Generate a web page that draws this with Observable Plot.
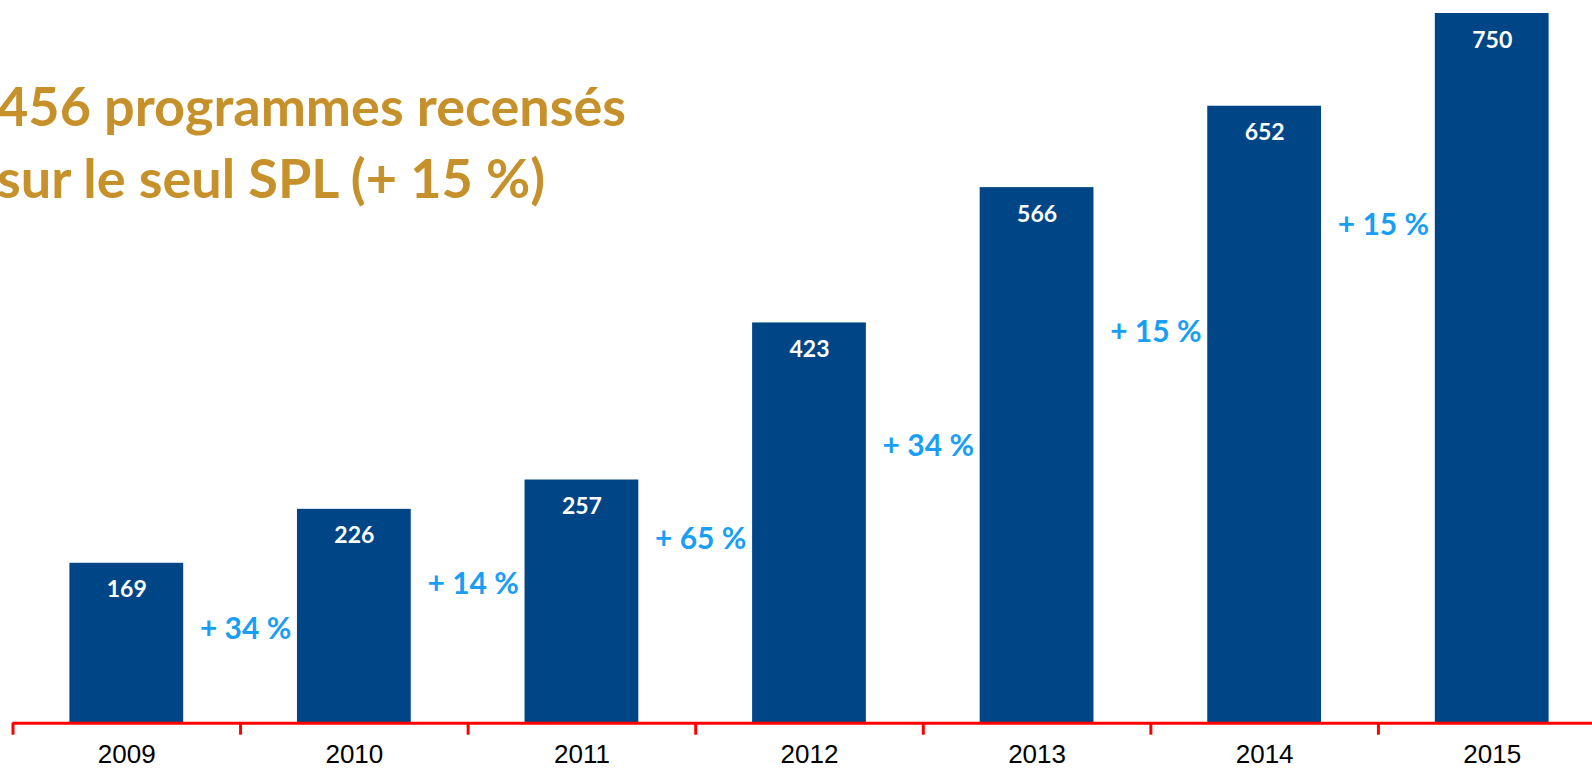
<!DOCTYPE html>
<html>
<head>
<meta charset="utf-8">
<script src="https://cdn.jsdelivr.net/npm/d3@7"></script>
<script src="https://cdn.jsdelivr.net/npm/@observablehq/plot@0.6"></script>
<style>
  html, body { margin: 0; padding: 0; background: #fff; overflow: hidden; }
  #wrap { position: relative; width: 1592px; height: 769px; }
  #title {
    position: absolute; left: -3px; top: 70px; margin: 0;
    font-family: Lato, "Open Sans", sans-serif; font-weight: 700;
    font-size: 54px; color: #c6902a; line-height: 71.6px;
    white-space: nowrap;
  }
  #title span { display: block; }
</style>
</head>
<body>
<div id="wrap">
  <div id="chart"></div>
  <div id="title"><span id="l1">456 programmes recensés</span><span id="l2">sur le seul SPL (+ 15 %)</span></div>
</div>
<script>
const years = ["2009", "2010", "2011", "2012", "2013", "2014", "2015"];
const values = [169, 226, 257, 423, 566, 652, 750];
const growthLabels = ["+ 34 %", "+ 14 %", "+ 65 %", "+ 34 %", "+ 15 %", "+ 15 %"];
const growthLabelLevel = [89.5, 137, 184, 282, 402.6, 515.4];

const bars = years.map((year, i) => ({year, value: values[i]}));
const growth = growthLabels.map((label, i) => ({year: years[i + 1], label, level: growthLabelLevel[i]}));

const W = 1592, H = 769;
const left = 12.5, right = 1605.5;
const step = (right - left) / years.length;

const chart = Plot.plot({
  width: W,
  height: H,
  marginTop: 13,
  marginBottom: 46.3,
  marginLeft: left,
  marginRight: 0,
  x: {type: "band", domain: years, range: [left, right], paddingInner: 0.5, paddingOuter: 0.25, round: false, axis: null},
  y: {domain: [0, 750], axis: null},
  style: {fontFamily: "Lato, sans-serif", background: "transparent"},
  marks: [
    Plot.barY(bars, {x: "year", y: "value", fill: "#004687"}),
    Plot.text(bars, {x: "year", y: "value", text: d => String(d.value), fill: "#ffffff",
      fontWeight: 700, fontSize: 23, fontFamily: "Lato, sans-serif", lineAnchor: "bottom", dy: 34}),
    Plot.text(growth, {x: "year", y: "level", text: "label", fill: "#189ef5",
      fontWeight: 700, fontSize: 30, fontFamily: "Lato, sans-serif", lineAnchor: "bottom", dx: -step / 2 + 5}),
    Plot.ruleY([0], {stroke: "#ff0000", strokeWidth: 3}),
    Plot.ruleX(years, {x: d => d, y1: 0, y2: 0, insetBottom: -12, dx: -step / 2, stroke: "#ff0000", strokeWidth: 3}),
    Plot.text(years, {x: d => d, y: 0, text: d => d, fill: "#000000", fontSize: 26,
      fontFamily: "'Liberation Sans', Arial, sans-serif", lineAnchor: "bottom", dy: 40})
  ]
});
document.getElementById("chart").appendChild(chart);
</script>
</body>
</html>
